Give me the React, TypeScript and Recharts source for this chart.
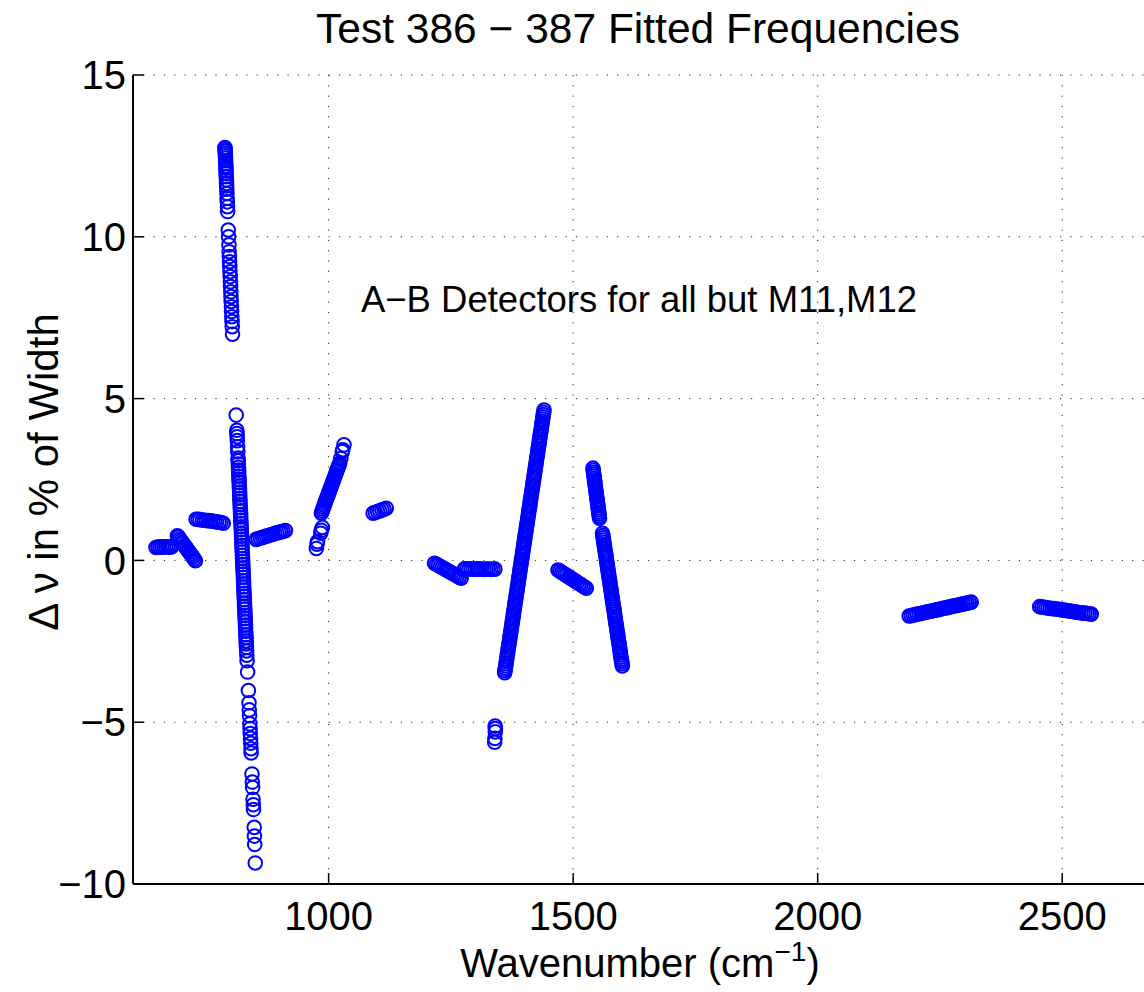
import React from 'react';
import { ScatterChart, Scatter, XAxis, YAxis, CartesianGrid } from 'recharts';

type Pt = [number, number];

// wavenumber (cm^-1), delta nu (% of width), one array per band
const bandA: Pt[] = [[647,0.40],[651,0.41],[655,0.41],[659,0.42],[663,0.41],[667,0.42],[671,0.42],[675,0.41],[679,0.42]];
const bandB: Pt[] = [[690.8,0.76],[693.2,0.72],[695.7,0.66],[698.1,0.61],[700.6,0.56],[703.0,0.51],[705.5,0.45],[708.0,0.41],[710.4,0.35],[712.9,0.30],[715.3,0.25],[717.8,0.20],[720.2,0.15],[722.7,0.10],[725.1,0.04],[727.6,-0.01]];
const bandC: Pt[] = [[729,1.27],[733,1.27],[737,1.26],[742,1.25],[746,1.24],[750,1.23],[754,1.23],[759,1.22],[763,1.21],[767,1.20],[771,1.19],[776,1.18],[780,1.17],[784.5,1.15]];
const bandD: Pt[] = [[788.0,12.76],[788.3,12.70],[788.5,12.64],[788.7,12.57],[789.0,12.50],[789.2,12.43],[789.4,12.35],[789.6,12.27],[789.9,12.19],[790.1,12.12],[790.3,12.04],[790.5,11.96],[790.7,11.86],[791.0,11.76],[791.3,11.65],[791.5,11.57],[791.8,11.47],[792.1,11.34],[792.5,11.19],[792.8,11.08],[793.2,10.93],[793.6,10.78],[794.8,10.21],[795.5,10.00],[796.2,9.75],[796.6,9.54],[797.1,9.39],[797.5,9.23],[797.9,9.08],[798.3,8.92],[798.8,8.77],[799.2,8.61],[799.6,8.46],[800.0,8.30],[800.4,8.15],[800.8,8.00],[801.3,7.84],[801.6,7.69],[802.1,7.53],[802.5,7.38],[802.9,7.22],[803.5,6.99]];
const bandE: Pt[] = [[811.0,4.49],[812.3,4.02],[812.6,3.92],[813.0,3.82],[813.3,3.70],[813.9,3.51],[814.3,3.36],[814.9,3.16],[815.1,3.08],[815.4,2.98],[815.7,2.88],[816.0,2.79],[816.2,2.70],[816.5,2.60],[816.8,2.50],[817.1,2.41],[817.4,2.30],[817.7,2.21],[818.0,2.11],[818.2,2.02],[818.5,1.92],[818.8,1.82],[819.1,1.72],[819.4,1.63],[819.7,1.53],[820.0,1.42],[820.2,1.34],[820.5,1.24],[820.8,1.14],[821.1,1.04],[821.4,0.95],[821.7,0.84],[822.0,0.75],[822.2,0.66],[822.5,0.56],[822.8,0.46],[823.1,0.36],[823.4,0.26],[823.7,0.16],[824.0,0.06],[824.2,-0.03],[824.5,-0.13],[824.8,-0.23],[825.1,-0.33],[825.4,-0.42],[825.7,-0.52],[826.0,-0.63],[826.2,-0.72],[826.5,-0.82],[826.8,-0.92],[827.1,-1.02],[827.4,-1.11],[827.7,-1.21],[828.0,-1.32],[828.2,-1.41],[828.5,-1.50],[828.8,-1.61],[829.1,-1.70],[829.4,-1.80],[829.7,-1.90],[830.0,-2.00],[830.2,-2.09],[830.5,-2.19],[830.8,-2.30],[831.1,-2.39],[831.4,-2.49],[831.7,-2.58],[832.0,-2.69],[832.4,-2.80],[832.8,-2.93],[833.3,-3.10],[834.3,-3.45],[836.0,-4.02],[837.2,-4.40],[837.8,-4.62],[838.3,-4.80],[838.9,-5.05],[839.4,-5.20],[839.8,-5.35],[840.3,-5.50],[840.8,-5.65],[841.3,-5.82],[841.6,-5.95],[843.3,-6.60],[844.0,-6.85],[844.6,-7.02],[845.5,-7.38],[846.0,-7.55],[846.4,-7.70],[847.9,-8.25],[848.3,-8.52],[848.9,-8.78],[850.0,-9.35]];
const bandF: Pt[] = [[852,0.65],[856,0.67],[860.5,0.69],[865,0.71],[869,0.73],[873,0.75],[877.5,0.77],[882,0.79],[886,0.81],[890,0.83],[894.5,0.85],[899,0.87],[903,0.88],[907,0.90],[911.6,0.92]];
const bandG: Pt[] = [[975.0,0.37],[976.2,0.50],[977.4,0.58],[983.8,0.84],[985.0,0.93],[987.2,1.02],[985.2,1.46],[986.6,1.52],[988.0,1.58],[989.5,1.64],[991.0,1.70],[992.4,1.76],[993.9,1.82],[995.3,1.88],[996.8,1.94],[998.2,2.00],[999.7,2.06],[1001.1,2.12],[1002.6,2.18],[1004.0,2.24],[1005.5,2.30],[1007.0,2.36],[1008.4,2.42],[1009.9,2.48],[1011.3,2.54],[1012.8,2.60],[1014.2,2.66],[1015.7,2.72],[1017.1,2.78],[1018.6,2.84],[1020.0,2.90],[1021.4,2.95],[1022.6,3.00],[1025.0,3.15],[1028.0,3.36],[1029.0,3.42],[1031.4,3.57]];
const bandH: Pt[] = [[1091,1.46],[1095.5,1.48],[1100,1.51],[1104.5,1.53],[1109,1.56],[1113.5,1.58],[1118,1.61]];
const bandI: Pt[] = [[1216.5,-0.09],[1220.4,-0.12],[1224.3,-0.15],[1228.2,-0.19],[1232.1,-0.22],[1236,-0.25],[1239.9,-0.29],[1243.8,-0.32],[1247.7,-0.35],[1251.6,-0.39],[1255.5,-0.42],[1259.4,-0.45],[1263.3,-0.49],[1267.2,-0.52],[1271,-0.55]];
const bandJ: Pt[] = [[1278,-0.26],[1282.4,-0.26],[1286.9,-0.27],[1291.3,-0.26],[1295.7,-0.27],[1300.1,-0.27],[1304.6,-0.26],[1309,-0.27],[1313.4,-0.27],[1317.9,-0.28],[1322.3,-0.27],[1326.7,-0.27],[1331.1,-0.28],[1335.6,-0.27],[1340,-0.27]];
const bandK: Pt[] = [[1340.5,-5.12],[1341,-5.20],[1340.8,-5.30],[1340,-5.50],[1339.5,-5.62]];
const bandL: Pt[] = [[1360.0,-3.47],[1360.7,-3.40],[1361.4,-3.33],[1362.1,-3.26],[1362.8,-3.19],[1363.5,-3.12],[1364.2,-3.05],[1364.9,-2.98],[1365.6,-2.91],[1366.2,-2.84],[1366.9,-2.77],[1367.6,-2.70],[1368.3,-2.63],[1369.0,-2.56],[1369.7,-2.49],[1370.4,-2.42],[1371.1,-2.35],[1371.8,-2.28],[1372.5,-2.21],[1373.2,-2.14],[1373.9,-2.07],[1374.6,-2.00],[1375.3,-1.93],[1376.0,-1.86],[1376.7,-1.79],[1377.4,-1.72],[1378.0,-1.65],[1378.7,-1.58],[1379.4,-1.51],[1380.1,-1.44],[1380.8,-1.37],[1381.5,-1.30],[1382.2,-1.23],[1382.9,-1.16],[1383.6,-1.09],[1384.3,-1.02],[1385.0,-0.95],[1385.7,-0.88],[1386.4,-0.81],[1387.1,-0.74],[1387.8,-0.67],[1388.5,-0.60],[1389.1,-0.53],[1389.8,-0.46],[1390.5,-0.39],[1391.2,-0.32],[1391.9,-0.25],[1392.6,-0.18],[1393.3,-0.11],[1394.0,-0.04],[1394.7,0.03],[1395.4,0.10],[1396.1,0.17],[1396.8,0.24],[1397.5,0.31],[1398.2,0.38],[1398.9,0.45],[1399.6,0.52],[1400.3,0.59],[1400.9,0.66],[1401.6,0.73],[1402.3,0.80],[1403.0,0.87],[1403.7,0.94],[1404.4,1.01],[1405.1,1.08],[1405.8,1.15],[1406.5,1.22],[1407.2,1.29],[1407.9,1.36],[1408.6,1.43],[1409.3,1.50],[1410.0,1.57],[1410.7,1.64],[1411.4,1.71],[1412.1,1.78],[1412.7,1.85],[1413.4,1.92],[1414.1,1.99],[1414.8,2.06],[1415.5,2.13],[1416.2,2.20],[1416.9,2.27],[1417.6,2.34],[1418.3,2.41],[1419.0,2.48],[1419.7,2.55],[1420.4,2.62],[1421.1,2.69],[1421.8,2.76],[1422.5,2.83],[1423.2,2.90],[1423.8,2.97],[1424.5,3.04],[1425.2,3.11],[1425.9,3.18],[1426.6,3.25],[1427.3,3.32],[1428.0,3.39],[1428.7,3.46],[1429.4,3.53],[1430.1,3.60],[1430.8,3.67],[1431.5,3.74],[1432.2,3.81],[1432.9,3.88],[1433.6,3.95],[1434.3,4.02],[1435.0,4.09],[1435.6,4.16],[1436.3,4.23],[1437.0,4.30],[1437.7,4.37],[1438.4,4.44],[1439.1,4.51],[1439.8,4.58],[1440.5,4.65]];
const bandM: Pt[] = [[1469,-0.30],[1472.6,-0.33],[1476.3,-0.37],[1479.9,-0.40],[1483.5,-0.44],[1487.1,-0.47],[1490.8,-0.51],[1494.4,-0.54],[1498,-0.58],[1501.6,-0.61],[1505.3,-0.65],[1508.9,-0.68],[1512.5,-0.72],[1516.1,-0.75],[1519.8,-0.79],[1523.4,-0.82],[1527,-0.86]];
const bandN: Pt[] = [[1540.5,2.85],[1541.1,2.79],[1541.6,2.72],[1542.2,2.66],[1542.8,2.60],[1543.3,2.53],[1543.9,2.46],[1544.4,2.40],[1545.0,2.33],[1545.6,2.27],[1546.1,2.20],[1546.7,2.14],[1547.3,2.07],[1547.8,2.01],[1548.4,1.95],[1548.9,1.88],[1549.5,1.82],[1550.1,1.75],[1550.6,1.69],[1551.2,1.62],[1551.8,1.56],[1552.3,1.49],[1552.9,1.43],[1553.4,1.36],[1554.0,1.30]];
const bandO: Pt[] = [[1560.0,0.84],[1560.7,0.77],[1561.4,0.70],[1562.1,0.63],[1562.8,0.56],[1563.4,0.49],[1564.1,0.42],[1564.8,0.35],[1565.5,0.28],[1566.2,0.21],[1566.9,0.15],[1567.6,0.08],[1568.3,0.01],[1568.9,-0.06],[1569.6,-0.13],[1570.3,-0.20],[1571.0,-0.27],[1571.7,-0.34],[1572.4,-0.41],[1573.1,-0.48],[1573.8,-0.55],[1574.4,-0.62],[1575.1,-0.69],[1575.8,-0.76],[1576.5,-0.83],[1577.2,-0.90],[1577.9,-0.97],[1578.6,-1.04],[1579.3,-1.11],[1579.9,-1.18],[1580.6,-1.25],[1581.3,-1.32],[1582.0,-1.39],[1582.7,-1.45],[1583.4,-1.52],[1584.1,-1.59],[1584.8,-1.66],[1585.4,-1.73],[1586.1,-1.80],[1586.8,-1.87],[1587.5,-1.94],[1588.2,-2.01],[1588.9,-2.08],[1589.6,-2.15],[1590.3,-2.22],[1590.9,-2.29],[1591.6,-2.36],[1592.3,-2.43],[1593.0,-2.50],[1593.7,-2.57],[1594.4,-2.64],[1595.1,-2.71],[1595.8,-2.78],[1596.4,-2.85],[1597.1,-2.92],[1597.8,-2.99],[1598.5,-3.06],[1599.2,-3.12],[1599.9,-3.19],[1600.6,-3.26]];
const bandP: Pt[] = [[2187,-1.72],[2191.1,-1.71],[2195.2,-1.69],[2199.3,-1.68],[2203.4,-1.66],[2207.5,-1.65],[2211.6,-1.64],[2215.7,-1.62],[2219.8,-1.61],[2223.9,-1.59],[2228,-1.58],[2232.1,-1.57],[2236.2,-1.55],[2240.3,-1.54],[2244.4,-1.53],[2248.5,-1.51],[2252.6,-1.50],[2256.7,-1.48],[2260.8,-1.47],[2264.9,-1.46],[2269,-1.44],[2273.1,-1.43],[2277.2,-1.41],[2281.3,-1.40],[2285.4,-1.39],[2289.5,-1.37],[2293.6,-1.36],[2297.7,-1.35],[2301.8,-1.33],[2305.9,-1.32],[2310,-1.30],[2314,-1.29]];
const bandQ: Pt[] = [[2454,-1.43],[2458.2,-1.44],[2462.4,-1.45],[2466.7,-1.46],[2470.9,-1.47],[2475.1,-1.48],[2479.3,-1.49],[2483.5,-1.49],[2487.8,-1.50],[2492,-1.51],[2496.2,-1.52],[2500.4,-1.53],[2504.6,-1.54],[2508.9,-1.55],[2513.1,-1.56],[2517.3,-1.57],[2521.5,-1.58],[2525.7,-1.59],[2530,-1.60],[2534.2,-1.61],[2538.4,-1.62],[2542.6,-1.63],[2546.8,-1.63],[2551.1,-1.64],[2555.3,-1.65],[2559.5,-1.66]];

const xTicks = [1000, 1500, 2000, 2500];
const yTicks = [-10, -5, 0, 5, 10, 15];

const allBands = [bandA, bandB, bandC, bandD, bandE, bandF, bandG, bandH, bandI, bandJ, bandK, bandL, bandM, bandN, bandO, bandP, bandQ];
const points = allBands.flat().map(([x, y]) => ({ x, y }));

const FONT = '"Liberation Sans", Arial, Helvetica, sans-serif';
const fmt = (v: number) => String(v).replace('-', '\u2212');

const Ring = (props: any) => {
  const { cx, cy } = props;
  if (cx == null || cy == null) return null;
  return <circle cx={cx} cy={cy} r={6.8} fill="none" stroke="#0000ff" strokeWidth={2} />;
};

export default function App() {
  return (
    <div style={{ position: 'absolute', left: 0, top: 0, width: 1144, height: 992, overflow: 'hidden', background: '#fff' }}>
      <ScatterChart width={1175} height={992} margin={{ top: 75, right: 15, bottom: 48, left: 0 }}>
        <CartesianGrid stroke="#222" strokeDasharray="1.2 9.1" strokeWidth={1} />
        <XAxis
          type="number"
          dataKey="x"
          domain={[600, 2700]}
          ticks={xTicks}
          allowDataOverflow
          height={60}
          tickSize={-11}
          tickMargin={29}
          tickFormatter={fmt}
          axisLine={{ stroke: '#000', strokeWidth: 2 }}
          tickLine={{ stroke: '#000', strokeWidth: 1.5 }}
          tick={{ fontSize: 40, fill: '#000', fontFamily: FONT }}
        />
        <YAxis
          type="number"
          dataKey="y"
          domain={[-10, 15]}
          ticks={yTicks}
          allowDataOverflow
          width={133}
          tickSize={-11}
          tickMargin={18}
          tickFormatter={fmt}
          axisLine={{ stroke: '#000', strokeWidth: 2 }}
          tickLine={{ stroke: '#000', strokeWidth: 1.5 }}
          tick={{ fontSize: 40, fill: '#000', fontFamily: FONT }}
        />
        <Scatter data={points} shape={<Ring />} isAnimationActive={false} />
      </ScatterChart>
      <svg width={1144} height={992} style={{ position: 'absolute', left: 0, top: 0, pointerEvents: 'none' }}>
        <g fontFamily={FONT} fill="#000">
          <text x={638} y={43} fontSize={42.5} textAnchor="middle">Test 386 − 387 Fitted Frequencies</text>
          <text x={639} y={312} fontSize={36.5} textAnchor="middle">A−B Detectors for all but M11,M12</text>
          <text x={640} y={977} fontSize={40} textAnchor="middle">
            Wavenumber (cm<tspan fontSize={28} dy={-16}>−1</tspan><tspan dy={16}>)</tspan>
          </text>
          <text x={58} y={472} fontSize={42} textAnchor="middle" transform="rotate(-90 58 472)">Δ ν in % of Width</text>
        </g>
      </svg>
    </div>
  );
}
